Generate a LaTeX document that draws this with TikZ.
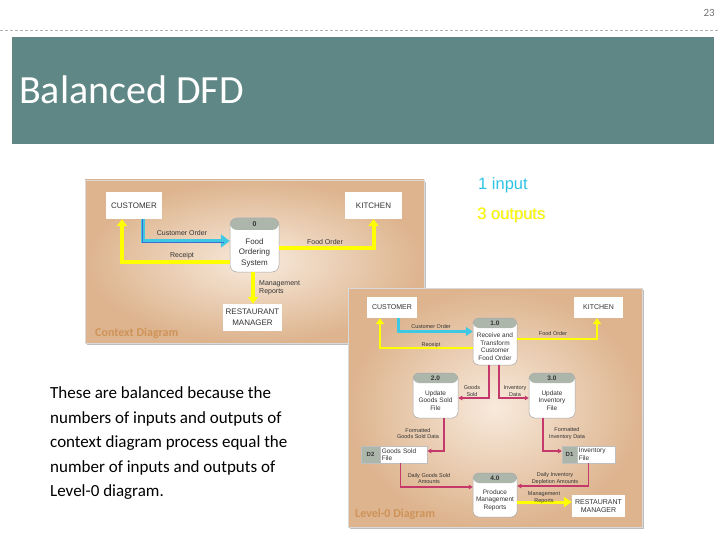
\documentclass[tikz,border=0pt]{standalone}
\usepackage{fontspec}
\setmainfont{Carlito}
\newfontfamily\arialf{Liberation Sans}
\usetikzlibrary{arrows.meta,calc}
\definecolor{titlebg}{HTML}{5F8785}
\definecolor{tanout}{HTML}{DDB48E}
\definecolor{tanin}{HTML}{F8EADC}
\definecolor{bandc}{HTML}{ADB6AB}
\definecolor{cyanarr}{HTML}{3FC8E4}
\definecolor{cyanline}{HTML}{3D6FD0}
\definecolor{yelarr}{HTML}{FFFF00}
\definecolor{pinkarr}{HTML}{C4386C}
\definecolor{lblorange}{HTML}{CF9358}
\definecolor{inputc}{HTML}{2EC4E4}
\definecolor{dtext}{HTML}{333333}
\begin{document}
\begin{tikzpicture}[x=1pt,y=-1pt,
  lab/.style={font=\arialf\fontsize{7}{8}\selectfont, inner sep=0pt, align=center, text=dtext},
  slab/.style={font=\arialf\fontsize{5.5}{6.5}\selectfont, inner sep=0pt, align=center, text=dtext},
  ext/.style={fill=white, font=\arialf\fontsize{8}{11}\selectfont, align=center, inner sep=0pt, text=dtext},
  sext/.style={fill=white, font=\arialf\fontsize{7}{8.5}\selectfont, align=center, inner sep=0pt, text=dtext},
  procA/.style={draw=black!35, line width=0.5pt, fill=white, rounded corners=7pt, inner sep=0pt,
     path picture={\fill[bandc] (path picture bounding box.north west) rectangle ([yshift=-12pt]path picture bounding box.north east);}},
  procB/.style={draw=black!35, line width=0.5pt, fill=white, rounded corners=6pt, inner sep=0pt,
     path picture={\fill[bandc] (path picture bounding box.north west) rectangle ([yshift=-10pt]path picture bounding box.north east);}},
  ptxtA/.style={font=\arialf\fontsize{8}{10.5}\selectfont, inner sep=0pt, align=center, text=dtext},
  ptxtB/.style={font=\arialf\fontsize{6.5}{7.5}\selectfont, inner sep=0pt, align=center, text=dtext},
  pnum/.style={font=\arialf\bfseries\fontsize{#1}{#1}\selectfont, inner sep=0pt, text=dtext},
  cyA/.style={cyanarr, line width=4.5pt, -{Triangle[length=9pt,width=13pt]}},
  yeA/.style={yelarr, line width=4pt, -{Triangle[length=7pt,width=10pt]}},
  cyB/.style={cyanarr, line width=3pt, -{Triangle[length=7pt,width=9pt]}},
  yeB/.style={yelarr, line width=2.6pt, -{Triangle[length=6pt,width=8pt]}},
  pk/.style={pinkarr, line width=1.2pt, -{Triangle[length=4pt,width=4.5pt]}},
  store/.style={draw=black!25, line width=0.3pt, minimum height=17pt, inner sep=0pt},
  diaglbl/.style={anchor=west, inner sep=0pt, text=lblorange, font=\bfseries\fontsize{12}{14}\selectfont}
]
\useasboundingbox (0,0) rectangle (720,540);
\fill[white] (0,0) rectangle (720,540);

% header
\node[anchor=east, inner sep=0pt, font=\fontsize{11}{12}\selectfont, text=black!55] (pnum) at (715,13) {23};
\draw[black!30, line width=0.6pt, dash pattern=on 3pt off 2pt] (0,30) -- (720,30);
\node[fill=titlebg, anchor=north west, minimum width=702pt, minimum height=107pt, inner sep=0pt] (band) at (12,37) {};
\node[anchor=base west, inner sep=0pt, text=white, font=\fontsize{40}{44}\selectfont] (title) at (19,104) {Balanced DFD};

% inputs / outputs
\node[anchor=west, inner sep=0pt, text=inputc, font=\arialf\fontsize{16.5}{18}\selectfont] (inp) at (478,185) {1 input};
\node[anchor=west, inner sep=0pt, text=olive!60, opacity=0.5, font=\arialf\fontsize{16.5}{18}\selectfont] (outsh) at (477.7,215.7) {3 outputs};
\node[anchor=west, inner sep=0pt, text=yelarr, font=\arialf\fontsize{16.5}{18}\selectfont] (outp) at (477,215) {3 outputs};

% left text
\node[anchor=north west, inner sep=0pt, align=left, text=black, font=\fontsize{17}{24.5}\selectfont] (expl) at (50,386.5)
{These are balanced because the\\numbers of inputs and outputs of\\context diagram process equal the\\number of inputs and outputs of\\Level-0 diagram.};

% ===== context diagram =====
\fill[black!25] (87,182) rectangle (426,345);
\shade[inner color=tanin, outer color=tanout] (85,180) rectangle (424,343);
\draw[black!15, line width=0.4pt] (85,180) rectangle (424,343);

\node[ext, minimum width=56pt, minimum height=27pt] (cust0) at (134,205.5) {CUSTOMER};
\node[ext, minimum width=57pt, minimum height=27pt] (kit0) at (373.5,205.5) {KITCHEN};
\node[ext, minimum width=59pt, minimum height=27pt] (rm0) at (252.5,317.5) {RESTAURANT\\MANAGER};
\node[procA, minimum width=49pt, minimum height=54pt] (p0) at (254.5,245) {};
\node[pnum=7] (p0n) at (254.5,224) {0};
\node[ptxtA] (p0t) at (254.5,252.5) {Food\\Ordering\\System};

\draw[cyA] ([xshift=9pt]cust0.south) |- ([yshift=4pt]p0.west);
\draw[cyanline, line width=0.7pt, shorten >=6pt] ([xshift=8pt]cust0.south) |- ([yshift=3pt]p0.west);
\draw[yeA] ([yshift=-17pt]p0.west) -| ([xshift=-12pt]cust0.south);
\draw[yeA] ([yshift=-3pt]p0.east) -| (kit0.south);
\draw[yeA] ([xshift=-1.5pt]p0.south) -- ([xshift=-1.5pt]p0.south |- rm0.north);

\node[lab] (l0a) at (182,233) {Customer Order};
\node[lab] (l0b) at (182,256) {Receipt};
\node[lab] (l0c) at (325,242) {Food Order};
\node[lab, anchor=west, align=left] (l0d) at (259,287.5) {Management\\Reports};
\node[diaglbl] (ctxlbl) at (95,333) {Context Diagram};

% ===== level-0 diagram =====
\fill[black!25] (350,290) rectangle (644,529);
\shade[inner color=tanin, outer color=tanout] (348,288) rectangle (642,527);
\draw[black!15, line width=0.4pt] (348,288) rectangle (642,527);

\node[sext, minimum width=50pt, minimum height=21pt] (cust1) at (392,307.5) {CUSTOMER};
\node[sext, minimum width=49pt, minimum height=21pt] (kit1) at (598.5,307.5) {KITCHEN};
\node[sext, minimum width=53pt, minimum height=22pt] (rm1) at (598.5,506) {RESTAURANT\\MANAGER};

\node[procB, minimum width=44pt, minimum height=47pt] (p1) at (495,341.5) {};
\node[pnum=6.5] (p1n) at (495,323) {1.0};
\node[ptxtB] (p1t) at (495,346.5) {Receive and\\Transform\\Customer\\Food Order};

\node[procB, minimum width=45pt, minimum height=45pt] (p2) at (435.5,395.5) {};
\node[pnum=6.5] (p2n) at (435.5,378) {2.0};
\node[ptxtB] (p2t) at (435.5,400.5) {Update\\Goods Sold\\File};

\node[procB, minimum width=46pt, minimum height=45pt] (p3) at (552,395.5) {};
\node[pnum=6.5] (p3n) at (552,378) {3.0};
\node[ptxtB] (p3t) at (552,400.5) {Update\\Inventory\\File};

\node[procB, minimum width=44pt, minimum height=44pt] (p4) at (495,495) {};
\node[pnum=6.5] (p4n) at (495,478) {4.0};
\node[ptxtB] (p4t) at (495,500) {Produce\\Management\\Reports};

\node[store, fill=bandc, minimum width=19pt, font=\arialf\bfseries\fontsize{6}{7}\selectfont, text=dtext] (d2id) at (370.5,454.5) {D2};
\node[store, fill=white, anchor=west, text width=44pt, inner xsep=1.5pt, align=left, font=\arialf\fontsize{6.5}{7.5}\selectfont, text=dtext] (d2) at (d2id.east) {Goods Sold\\File};
\node[store, fill=bandc, minimum width=15pt, font=\arialf\bfseries\fontsize{6}{7}\selectfont, text=dtext] (d1id) at (569.5,454.5) {D1};
\node[store, fill=white, anchor=west, text width=35pt, inner xsep=1.5pt, align=left, font=\arialf\fontsize{6.5}{7.5}\selectfont, text=dtext] (d1) at (d1id.east) {Inventory\\File};

\draw[cyB] ([xshift=6pt]cust1.south) |- ([yshift=10pt]p1.west);
\draw[yeB] ([yshift=-6.5pt]p1.west) -| ([xshift=-12pt]cust1.south);
\draw[yeB] ([yshift=2.5pt]p1.east) -| ([xshift=-1.5pt]kit1.south);
\draw[pk] ([xshift=-6pt]p1.south) |- ([yshift=-2.5pt]p2.east);
\draw[pk] ([xshift=4pt]p1.south) |- ([yshift=-2.5pt]p3.west);
\draw[pk] ([xshift=8.5pt]p2.south) |- ([yshift=3.5pt]d2.east);
\draw[pk] ([xshift=-9pt]p3.south) |- ([yshift=3.5pt]d1id.west);
\draw[pk] ([xshift=-3.5pt]d2.south) |- ([yshift=8pt]p4.west);
\draw[pk] ([xshift=-8pt]d1.south) |- ([yshift=9pt]p4.east);
\draw[yelarr, line width=3pt, -{Triangle[length=8pt,width=10pt]}] ([yshift=-7pt]p4.east) -- ([yshift=-7pt]p4.east -| rm1.west);

\node[slab] (l1a) at (431,327) {Customer Order};
\node[slab] (l1b) at (431,345) {Receipt};
\node[slab] (l1c) at (553,334) {Food Order};
\node[slab] (l1d) at (472,391) {Goods\\Sold};
\node[slab] (l1e) at (515,391) {Inventory\\Data};
\node[slab] (l1f) at (418,433.5) {Formatted\\Goods Sold Data};
\node[slab] (l1g) at (567,433.5) {Formatted\\Inventory Data};
\node[slab] (l1h) at (429,478.5) {Daily Goods Sold\\Amounts};
\node[slab] (l1i) at (555,478.5) {Daily Inventory\\Depletion Amounts};
\node[slab] (l1j) at (544,497.5) {Management\\Reports};
\node[diaglbl] (l0lbl) at (355,514) {Level-0 Diagram};
\end{tikzpicture}
\end{document}
